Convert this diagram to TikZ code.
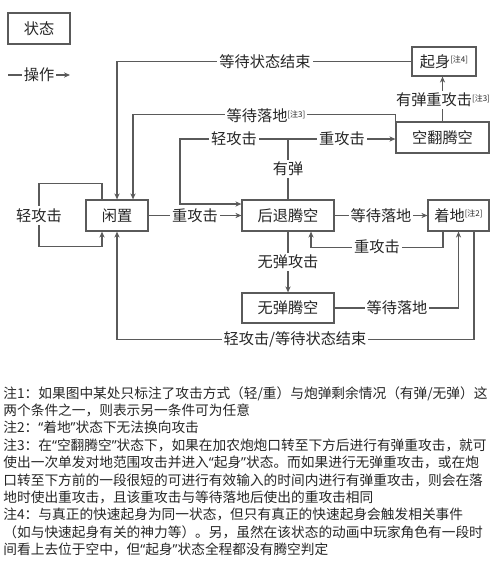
\documentclass[tikz,border=0pt]{standalone}
\usepackage{fontspec}
\setmainfont{Noto Sans CJK SC}
\newfontfamily\qfont{Noto Sans}
\usetikzlibrary{arrows.meta,calc}
\definecolor{ln}{HTML}{5A5A5A}
\definecolor{tx}{HTML}{262626}
\newcommand\nt[1]{\raisebox{0.55ex}{\fontsize{4}{4}\selectfont[注#1]}}
\newcommand\ql{{\qfont “}}
\newcommand\qr{{\qfont ”}}
\tikzset{
  box/.style={draw=ln,line width=0.6pt,fill=white,text=tx,inner sep=0pt,font=\fontsize{7.6}{9}\selectfont},
  lbl/.style={fill=white,text=tx,inner sep=1pt,font=\fontsize{7.6}{9}\selectfont},
  con/.style={draw=ln,line width=0.55pt},
  arr/.style={con,-{Stealth[length=3pt,width=2.6pt]}},
}
\begin{document}
\begin{tikzpicture}[x=0.5pt,y=-0.5pt]
\useasboundingbox (0,0) rectangle (500,562);
% legend
\node[box,minimum width=31pt,minimum height=15.5pt] (legend) at (39,28.5) {状态};
\coordinate (la) at (8,75);
\coordinate (lb) at (70,75);
\draw[arr] (la) -- (lb) node[lbl,midway] (lop) {操作};
% states
\node[box,minimum width=32pt,minimum height=14.5pt] (qs) at (444,61.5) {起身\nt{4}};
\node[box,minimum width=46.5pt,minimum height=15.5pt] (kf) at (442.5,137.5) {空翻腾空};
\node[box,minimum width=31pt,minimum height=15.5pt] (idle) at (117,215.5) {闲置};
\node[box,minimum width=46pt,minimum height=15.5pt] (ht) at (288,215.5) {后退腾空};
\node[box,minimum width=30.5pt,minimum height=15.5pt] (zd) at (458.5,215.5) {着地\nt{2}};
\node[box,minimum width=46pt,minimum height=15pt] (wd) at (288,308) {无弹腾空};
% connectors
\draw[arr] (qs.west) -| (idle.north);
\node[lbl] (l1) at (265,62) {等待状态结束};
\draw[arr] (kf.north west) -- ++(0,-7) -| ($(idle.north)+(16,0)$);
\node[lbl] (l2) at (266,116) {等待落地\nt{3}};
\draw[arr] ($(idle.north)+(-15,0)$) -- ++(0,-16) -- ++(-63,0) -- ++(0,63) -- ++(63,0) -- ($(idle.south)+(-15,0)$);
\node[lbl] (l3) at (39,215.5) {轻攻击};
\draw[arr] (idle) -- (ht) node[lbl,midway] (l4) {重攻击};
\coordinate (br) at (288,139);
\draw[con] (ht.north) -- (br) node[lbl,pos=0.5] (l5) {有弹};
\draw[arr] (br) -- (180,139) -- (180,204) -- (ht.west |- 0,204);
\node[lbl] (l6) at (234,139) {轻攻击};
\draw[arr] (br) -- (br -| kf.west);
\node[lbl] (l7) at (342,139) {重攻击};
\draw[arr] (ht) -- (zd) node[lbl,midway] (l8) {等待落地};
\draw[arr] ($(zd.south)+(-15.5,0)$) -- ++(0,16) -| ($(ht.south)+(23,0)$);
\node[lbl] (l9) at (377,247) {重攻击};
\draw[arr] (ht) -- (wd) node[lbl,midway] (l10) {无弹攻击};
\draw[arr] (wd.east) -| (zd.south);
\node[lbl] (l11) at (397,308) {等待落地};
\draw[arr] ($(zd.south)+(15.5,0)$) -- ++(0,108) -| (idle.south);
\node[lbl] (l12) at (295,339) {轻攻击/等待状态结束};
\draw[arr] (kf.north) -- (kf.north |- qs.south);
\node[lbl] (l13) at (443,100) {有弹重攻击\nt{3}};
% notes
\node[anchor=north west,inner sep=0pt,text=tx,align=left,font=\fontsize{6.85}{8.7}\selectfont] (notes) at (3,386) {%
注1：如果图中某处只标注了攻击方式（轻/重）与炮弹剩余情况（有弹/无弹）这\\
两个条件之一，则表示另一条件可为任意\\
注2：\ql 着地\qr 状态下无法换向攻击\\
注3：在\ql 空翻腾空\qr 状态下，如果在加农炮炮口转至下方后进行有弹重攻击，就可\\
使出一次单发对地范围攻击并进入\ql 起身\qr 状态。而如果进行无弹重攻击，或在炮\\
口转至下方前的一段很短的可进行有效输入的时间内进行有弹重攻击，则会在落\\
地时使出重攻击，且该重攻击与等待落地后使出的重攻击相同\\
注4：与真正的快速起身为同一状态，但只有真正的快速起身会触发相关事件\\
（如与快速起身有关的神力等）。另，虽然在该状态的动画中玩家角色有一段时\\
间看上去位于空中，但\ql 起身\qr 状态全程都没有腾空判定};
\end{tikzpicture}
\end{document}
